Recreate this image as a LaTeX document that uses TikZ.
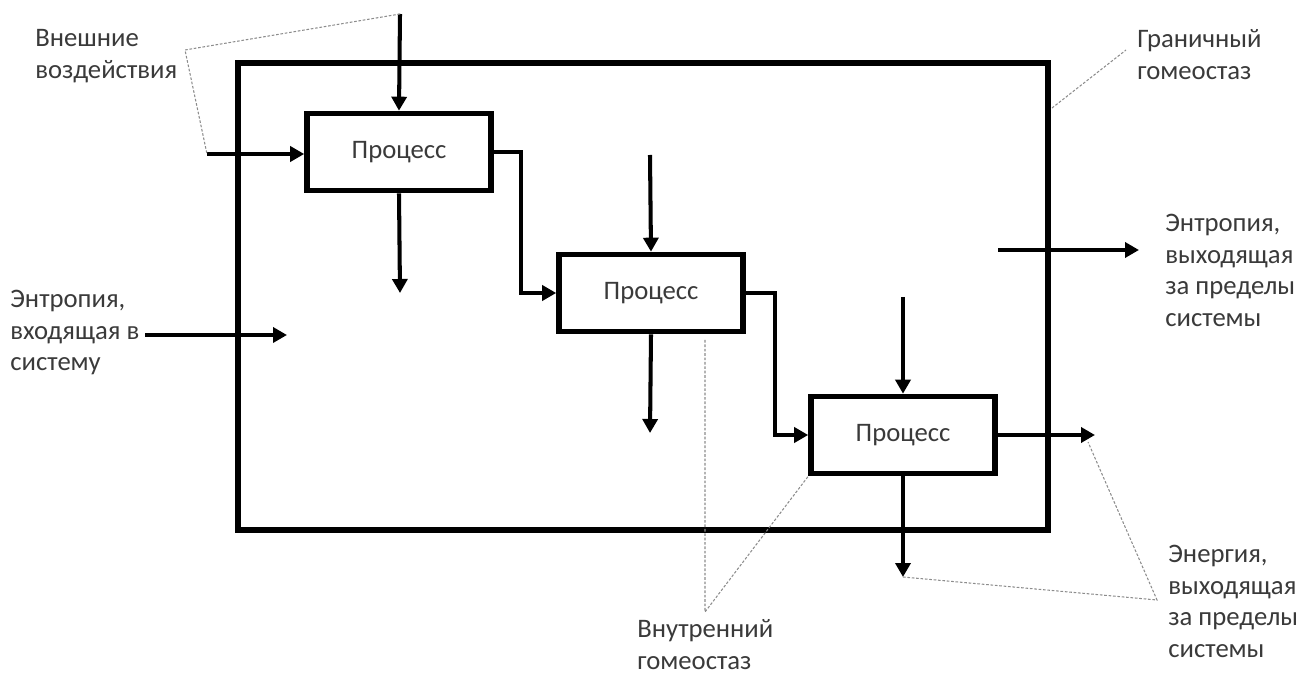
\documentclass[tikz,border=0pt]{standalone}
\usepackage{fontspec}
\setmainfont{Carlito}
\usetikzlibrary{arrows.meta}
\begin{document}
\begin{tikzpicture}[x=0.02cm,y=-0.02cm,font=\fontsize{15.2}{18}\selectfont]
\definecolor{ctext}{HTML}{3A3A3A}
\tikzset{procbox/.style={draw=black,line width=3.2pt,fill=white,minimum width=3.68cm,minimum height=1.54cm,inner sep=0pt,text=ctext},
 flow/.style={line width=2.3pt,-{Triangle[length=0.28cm,width=0.3cm]}},
 note/.style={align=left,anchor=north west,inner sep=0pt,text=ctext},
 lead/.style={draw=black!45,line width=0.6pt,dash pattern=on 1.5pt off 1pt}}
\useasboundingbox (0,0) rectangle (1296,675);
% system boundary
\draw[line width=3.4pt] (238,63) coordinate (sysnw) rectangle (1048,530) coordinate (sysse);
\coordinate (sysleadpt) at (1052,108);
% processes
\node[procbox] (p1) at (399,152) {Процесс};
\node[procbox] (p2) at (651,293) {Процесс};
\node[procbox] (p3) at (903,435) {Процесс};
% free ends
\coordinate (top1) at (400,14);
\coordinate (left1) at (207,154);
\coordinate (down1) at (400,293);
\coordinate (top2) at (650,155);
\coordinate (down2) at (650,433);
\coordinate (top3) at (903,297);
\coordinate (down3) at (903,577);
\coordinate (out3) at (1095,435);
\coordinate (entin) at (145,335);
\coordinate (entinend) at (287,335);
\coordinate (entout) at (998,250);
\coordinate (entoutend) at (1139,250);
% flows
\draw[flow] (top1) -- (p1.north);
\draw[flow] (left1) -- (left1 -| p1.west);
\draw[flow] (p1.south) -- (down1);
\draw[flow] (p1.east) -- ++(27,0) |- (p2.west);
\draw[flow] (top2) -- (p2.north);
\draw[flow] (p2.south) -- (down2);
\draw[flow] (p2.east) -- ++(29,0) |- (p3.west);
\draw[flow] (top3) -- (p3.north);
\draw[flow] (p3.south) -- (down3);
\draw[flow] (p3.east) -- (p3.east -| out3);
\draw[flow] (entin) -- (entinend);
\draw[flow] (entout) -- (entoutend);
% labels
\node[note] (vnesh) at (35,29) {Внешние\\воздействия};
\node[note] (gran) at (1137,29) {Граничный\\гомеостаз};
\node[note] (entoutlbl) at (1165,214) {Энтропия,\\выходящая\\за пределы\\системы};
\node[note] (entinlbl) at (10,290) {Энтропия,\\входящая в\\систему};
\node[note] (energylbl) at (1168,545) {Энергия,\\выходящая\\за пределы\\системы};
\node[note] (innerlbl) at (637,619) {Внутренний\\гомеостаз};
% leader lines
\draw[lead] (top1) -- (185,50) -- (left1);
\draw[lead] (sysleadpt) -- (1126,50);
\draw[lead] (705,340) -- (705,612) -- (p3.south west);
\draw[lead] (down3) -- (1157,600) -- (1088,442);
\end{tikzpicture}
\end{document}
